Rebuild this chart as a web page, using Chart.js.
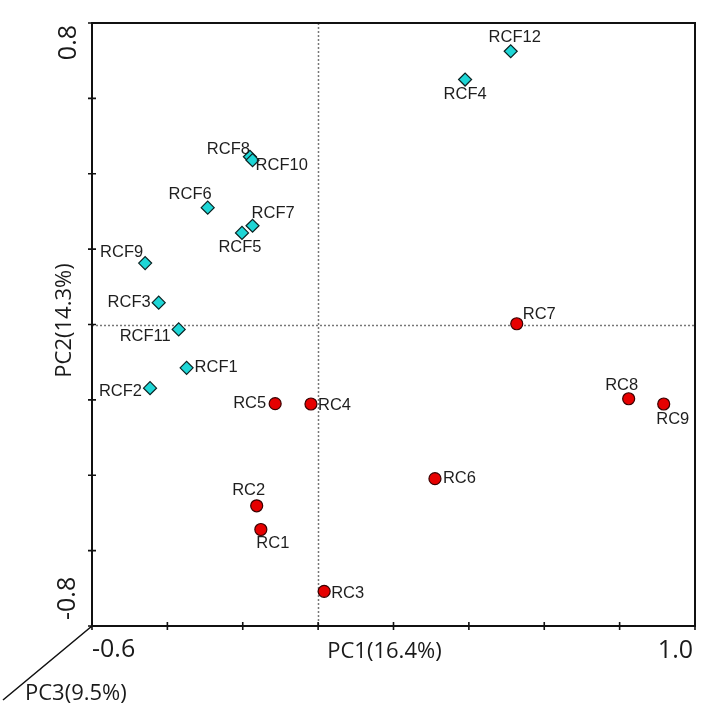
<!DOCTYPE html>
<html>
<head>
<meta charset="utf-8">
<script src="https://cdn.jsdelivr.net/npm/chart.js@4"></script>
<style>
html,body{margin:0;padding:0;background:#fff;}
canvas{display:block;}
</style>
</head>
<body>
<canvas id="c" width="727" height="712"></canvas>
<script>
// ---- data ----
const rcNames = ['RC1','RC2','RC3','RC4','RC5','RC6','RC7','RC8','RC9'];
const rcX = [-0.152,-0.163,0.016,-0.019,-0.114,0.310,0.527,0.824,0.917];
const rcY = [-0.544,-0.481,-0.708,-0.211,-0.210,-0.409,0.002,-0.197,-0.211];

const rcfNames = ['RCF1','RCF2','RCF3','RCF4','RCF5','RCF6','RCF7','RCF8','RCF9','RCF10','RCF11','RCF12'];
const rcfX = [-0.349,-0.446,-0.423,0.390,-0.202,-0.293,-0.174,-0.181,-0.459,-0.174,-0.370,0.511];
const rcfY = [-0.115,-0.169,0.058,0.650,0.243,0.310,0.262,0.445,0.163,0.436,-0.013,0.725];

const xTicks = [-0.6,-0.4,-0.2,0,0.2,0.4,0.6,0.8,1.0];
const yTicks = [-0.8,-0.6,-0.4,-0.2,0,0.2,0.4,0.6,0.8];
const xEndLabels = ['-0.6','1.0'];
const yEndLabels = ['-0.8','0.8'];
const xTitle = 'PC1(16.4%)';
const yTitle = 'PC2(14.3%)';
const zTitle = 'PC3(9.5%)';

// ---- label placement (layout only): [dx, dy, align] ----
const labelPlace = {
  RC1:[12,14,'center'], RC2:[-8,-15,'center'], RC3:[7,2,'left'], RC4:[7,1,'left'],
  RC5:[-9,0,'right'], RC6:[8,0,'left'], RC7:[6,-9,'left'], RC8:[-7,-13,'center'], RC9:[9,15,'center'],
  RCF1:[8,0,'left'], RCF2:[-8,3,'right'], RCF3:[-8,0,'right'], RCF4:[0,15,'center'],
  RCF5:[-2,15,'center'], RCF6:[4,-13,'right'], RCF7:[-1,-12,'left'], RCF8:[0,-7,'right'],
  RCF9:[-2,-11,'right'], RCF10:[3,5,'left'], RCF11:[-8,7,'right'], RCF12:[4,-14,'center']
};

const toPts = (xs, ys) => xs.map((x, i) => ({x: x, y: ys[i]}));

const deco = {
  id: 'deco',
  beforeDatasetsDraw(chart) {
    const {ctx, chartArea: a, scales: {x, y}} = chart;
    ctx.save();
    ctx.strokeStyle = '#777';
    ctx.lineWidth = 1.5;
    ctx.setLineDash([2, 2]);
    const x0 = Math.round(x.getPixelForValue(0)) + 0.5;
    const y0 = Math.round(y.getPixelForValue(0)) + 0.5;
    ctx.beginPath();
    ctx.moveTo(x0, a.top); ctx.lineTo(x0, a.bottom);
    ctx.moveTo(a.left, y0); ctx.lineTo(a.right, y0);
    ctx.stroke();
    ctx.restore();
  },
  afterDraw(chart) {
    const {ctx, chartArea: a, scales: {x, y}} = chart;
    ctx.save();
    // frame
    ctx.strokeStyle = '#111';
    ctx.lineWidth = 2;
    ctx.setLineDash([]);
    ctx.strokeRect(a.left, a.top, a.right - a.left, a.bottom - a.top);
    // ticks (crossing)
    ctx.beginPath();
    xTicks.forEach(v => {
      const px = x.getPixelForValue(v);
      ctx.moveTo(px, a.bottom - 4); ctx.lineTo(px, a.bottom + 4);
    });
    yTicks.forEach(v => {
      const py = y.getPixelForValue(v);
      ctx.moveTo(a.left - 4, py); ctx.lineTo(a.left + 4, py);
    });
    // PC3 diagonal
    ctx.moveTo(a.left, a.bottom);
    ctx.lineTo(a.left - 89, a.bottom + 74);
    ctx.lineWidth = 1.6;
    ctx.stroke();

    ctx.fillStyle = '#1a1a1a';
    // x end labels
    ctx.font = '25px "Open Sans"';
    ctx.textBaseline = 'middle';
    ctx.textAlign = 'left';
    ctx.fillText(xEndLabels[0], x.getPixelForValue(xTicks[0]), a.bottom + 24);
    ctx.textAlign = 'right';
    ctx.fillText(xEndLabels[1], x.getPixelForValue(xTicks[xTicks.length - 1]) - 2, a.bottom + 25);
    // y end labels (rotated)
    ctx.save();
    ctx.translate(a.left - 23, y.getPixelForValue(yTicks[yTicks.length - 1]) + 2);
    ctx.rotate(-Math.PI / 2);
    ctx.textAlign = 'right';
    ctx.fillText(yEndLabels[1], 0, 0);
    ctx.restore();
    ctx.save();
    ctx.translate(a.left - 24, y.getPixelForValue(yTicks[0]) - 6);
    ctx.rotate(-Math.PI / 2);
    ctx.textAlign = 'left';
    ctx.fillText(yEndLabels[0], 0, 0);
    ctx.restore();
    // titles
    ctx.font = '22px "Open Sans"';
    ctx.textAlign = 'center';
    ctx.fillText(xTitle, a.left + 0.485 * (a.right - a.left), a.bottom + 26);
    ctx.save();
    ctx.translate(a.left - 27, (a.top + a.bottom) / 2 - 4);
    ctx.rotate(-Math.PI / 2);
    ctx.fillText(yTitle, 0, 0);
    ctx.restore();
    ctx.textAlign = 'left';
    ctx.fillText(zTitle, a.left - 67, a.bottom + 68);

    // point labels
    ctx.font = '16.5px "Liberation Sans", Arial, sans-serif';
    ctx.fillStyle = '#1e1e1e';
    chart.data.datasets.forEach((ds, di) => {
      const meta = chart.getDatasetMeta(di);
      meta.data.forEach((el, i) => {
        const name = ds.names[i];
        const p = labelPlace[name] || [8, 0, 'left'];
        ctx.textAlign = p[2];
        ctx.textBaseline = 'middle';
        ctx.fillText(name, el.x + p[0], el.y + p[1]);
      });
    });
    ctx.restore();
  }
};

new Chart(document.getElementById('c'), {
  type: 'scatter',
  data: {
    datasets: [
      {
        label: 'RCF', names: rcfNames, data: toPts(rcfX, rcfY),
        pointStyle: 'rectRot', pointRadius: 6.5, pointHoverRadius: 6.5,
        backgroundColor: '#1ed6d6', borderColor: '#0b2222', borderWidth: 1.2, clip: false
      },
      {
        label: 'RC', names: rcNames, data: toPts(rcX, rcY),
        pointStyle: 'circle', pointRadius: 6, pointHoverRadius: 6,
        backgroundColor: '#e60000', borderColor: '#3a0000', borderWidth: 1.2, clip: false
      }
    ]
  },
  options: {
    responsive: false,
    animation: false,
    devicePixelRatio: 1,
    layout: { padding: { left: 92, top: 23, right: 32, bottom: 86 } },
    plugins: { legend: { display: false }, tooltip: { enabled: false } },
    events: [],
    scales: {
      x: { type: 'linear', display: false, min: xTicks[0], max: xTicks[xTicks.length - 1] },
      y: { type: 'linear', display: false, min: yTicks[0], max: yTicks[yTicks.length - 1] }
    }
  },
  plugins: [deco]
});
</script>
</body>
</html>
